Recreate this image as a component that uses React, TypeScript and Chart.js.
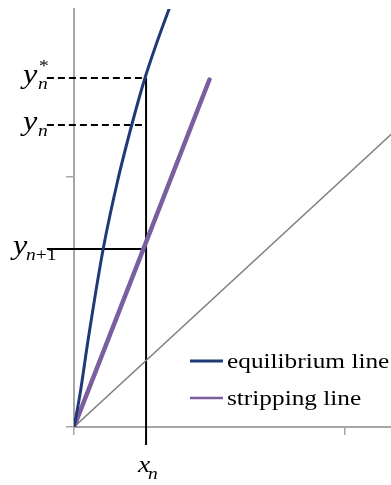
import { useEffect, useRef } from 'react';
import { Chart, registerables } from 'chart.js';

Chart.register(...registerables);

// Equilibrium curve
const equilibriumX = [0, 0.022, 0.052, 0.107, 0.16, 0.218, 0.262, 0.3, 0.351, 0.385];
const equilibriumY = [0, 0.13, 0.348, 0.708, 0.98, 1.228, 1.396, 1.52, 1.672, 1.77];
// Stripping (operating) line
const strippingX = [0, 0.5];
const strippingY = [0, 1.39];
// Diagonal y = x
const diagonalX = [0, 1.2];
const diagonalY = [0, 1.2];
// Construction values
const xN = 0.266;
const yNStar = 1.396;
const yN = 1.208;
const yN1 = 0.712;
const guideStartX = -0.1;
const guideBottomY = -0.072;
// Axis ranges / ticks
const xMax = 1.17;
const yMax = 1.672;
const tickStep = 1;
const seriesLabels = ['equilibrium line', 'stripping line'];

const zip = (xs: number[], ys: number[]) => xs.map((x, i) => ({ x, y: ys[i] }));

const SERIF = '"Liberation Serif", "Times New Roman", serif';
const SX = 1.15;

function drawText(ctx: CanvasRenderingContext2D, text: string, x: number, y: number, font: string) {
  ctx.save();
  ctx.font = font;
  ctx.textAlign = 'left';
  ctx.textBaseline = 'alphabetic';
  ctx.fillStyle = '#000';
  ctx.translate(x, y);
  ctx.scale(SX, 1);
  ctx.fillText(text, 0, 0);
  const w = ctx.measureText(text).width * SX;
  ctx.restore();
  return w;
}

const annotPlugin = {
  id: 'annot',
  afterDraw(chart: any) {
    const ctx: CanvasRenderingContext2D = chart.ctx;
    const xs = chart.scales.x;
    const ys = chart.scales.y;
    const startX = xs.getPixelForValue(guideStartX);
    const big = `italic 28px ${SERIF}`;
    const sub = `italic 17px ${SERIF}`;
    const subR = `17px ${SERIF}`;

    // y*_n
    let py = ys.getPixelForValue(yNStar);
    drawText(ctx, 'y', startX - 24, py + 5, big);
    drawText(ctx, 'n', startX - 9, py + 11, sub);
    drawText(ctx, '*', startX - 8, py - 7, subR);
    // y_n
    py = ys.getPixelForValue(yN);
    drawText(ctx, 'y', startX - 24, py + 5, big);
    drawText(ctx, 'n', startX - 9, py + 11, sub);
    // y_{n+1}
    py = ys.getPixelForValue(yN1);
    drawText(ctx, 'y', startX - 34, py + 5, big);
    const w = drawText(ctx, 'n', startX - 21, py + 11, sub);
    drawText(ctx, '+1', startX - 21 + w, py + 11, subR);
    // x_n
    const px = xs.getPixelForValue(xN);
    const by = ys.getPixelForValue(0);
    drawText(ctx, 'x', px - 8, by + 45, `italic 24px ${SERIF}`);
    drawText(ctx, 'n', px + 2, by + 52, sub);

    // legend
    const ds = chart.data.datasets;
    const lx = 190;
    const rows = [361, 398];
    const widths = [3, 2.5];
    for (let i = 0; i < 2; i++) {
      ctx.save();
      ctx.strokeStyle = ds[i].borderColor;
      ctx.lineWidth = widths[i];
      ctx.beginPath();
      ctx.moveTo(lx, rows[i]);
      ctx.lineTo(lx + 33, rows[i]);
      ctx.stroke();
      ctx.restore();
      drawText(ctx, ds[i].label, lx + 37, rows[i] + 7, `22px ${SERIF}`);
    }
  },
};

export default function App() {
  const ref = useRef<HTMLCanvasElement>(null);
  useEffect(() => {
    if (!ref.current) return;
    const guide = (data: any[], dash: number[] = []) => ({
      label: '',
      data,
      borderColor: '#000',
      borderWidth: 2,
      borderDash: dash,
      pointRadius: 0,
      clip: false as any,
      tension: 0,
    });
    const chart = new Chart(ref.current, {
      type: 'line',
      data: {
        datasets: [
          {
            label: seriesLabels[0],
            data: zip(equilibriumX, equilibriumY),
            borderColor: '#1F3A77',
            borderWidth: 3,
            pointRadius: 0,
            cubicInterpolationMode: 'monotone',
          },
          {
            label: seriesLabels[1],
            data: zip(strippingX, strippingY),
            borderColor: '#7B5EA0',
            borderWidth: 4.5,
            borderCapStyle: 'round',
            pointRadius: 0,
          },
          {
            label: '',
            data: zip(diagonalX, diagonalY),
            borderColor: '#7F7F7F',
            borderWidth: 1.5,
            pointRadius: 0,
          },
          guide([{ x: xN, y: yNStar }, { x: xN, y: guideBottomY }]),
          guide([{ x: guideStartX, y: yNStar }, { x: xN, y: yNStar }], [7, 4]),
          guide([{ x: guideStartX, y: yN }, { x: xN, y: yN }], [7, 4]),
          guide([{ x: guideStartX, y: yN1 }, { x: xN, y: yN1 }]),
        ] as any,
      },
      options: {
        responsive: false,
        animation: false,
        layout: { padding: { top: 9, right: 0, left: 0, bottom: 0 } },
        plugins: { legend: { display: false }, tooltip: { enabled: false } },
        events: [],
        scales: {
          x: {
            type: 'linear',
            min: 0,
            max: xMax,
            ticks: { display: false, stepSize: tickStep, includeBounds: false },
            grid: { drawOnChartArea: false, drawTicks: true, tickLength: 8, color: '#A6A6A6', lineWidth: 1.5 },
            border: { color: '#A6A6A6', width: 2 },
            afterFit: (s: any) => { s.height = 58; },
          },
          y: {
            type: 'linear',
            min: 0,
            max: yMax,
            ticks: { display: false, stepSize: tickStep, includeBounds: false },
            grid: { drawOnChartArea: false, drawTicks: true, tickLength: 8, color: '#A6A6A6', lineWidth: 1.5 },
            border: { color: '#A6A6A6', width: 2 },
            afterFit: (s: any) => { s.width = 74; },
          },
        },
      } as any,
      plugins: [annotPlugin],
    });
    return () => chart.destroy();
  }, []);
  return (
    <div style={{ position: 'absolute', left: 0, top: 0, width: 391, height: 485, background: '#fff' }}>
      <canvas ref={ref} width={391} height={485} style={{ display: 'block' }} />
    </div>
  );
}
